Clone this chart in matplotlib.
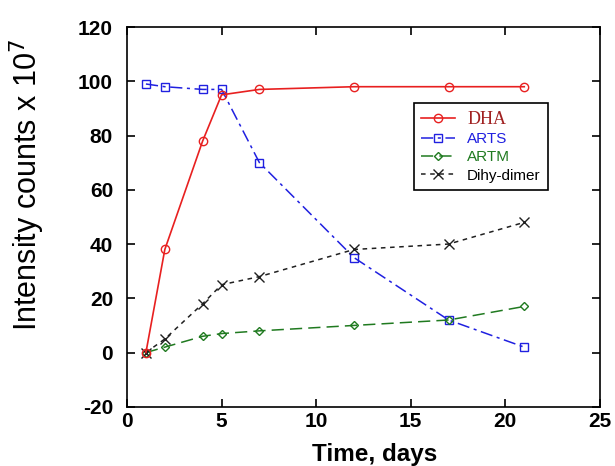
import matplotlib
matplotlib.use("Agg")
import matplotlib.pyplot as plt

plt.rcParams['font.family'] = ['Liberation Sans', 'DejaVu Sans']
plt.rcParams['axes.unicode_minus'] = False

days = [1, 2, 4, 5, 7, 12, 17, 21]
dha = [0, 38, 78, 95, 97, 98, 98, 98]
arts = [99, 98, 97, 97, 70, 35, 12, 2]
artm = [0, 2, 6, 7, 8, 10, 12, 17]
dimer = [0, 5, 18, 25, 28, 38, 40, 48]

fig = plt.figure(figsize=(6.15, 4.66), dpi=100)
ax = fig.add_axes([0.2065, 0.127, 0.769, 0.815])

ax.plot(days, arts, color='#2020e0', ls=(0, (8, 3, 2, 3)), lw=1.1, marker='s',
        ms=6, mfc='none', mec='#2020e0', label='ARTS')
ax.plot(days, artm, color='#207a20', ls=(0, (8, 4)), lw=1.1, marker='D',
        ms=4, mfc='none', mec='#207a20', label='ARTM')
ax.plot(days, dimer, color='#202020', ls=(0, (3, 3)), lw=1.1, marker='x',
        ms=7, mec='#202020', label='Dihy-dimer')
ax.plot(days, dha, color='#e82020', ls='-', lw=1.2, marker='o',
        ms=6, mfc='none', mec='#e82020', label='DHA')

ax.set_xlim(0, 25)
ax.set_ylim(-20, 120)
ax.set_xticks([0, 5, 10, 15, 20, 25])
ax.set_yticks([-20, 0, 20, 40, 60, 80, 100, 120])
ax.tick_params(direction='in', top=True, right=True, length=6, width=1.2,
               labelsize=15)
ax.tick_params(axis='y', pad=10)
ax.tick_params(axis='x', pad=4)
for lab in ax.get_xticklabels() + ax.get_yticklabels():
    lab.set_fontweight('bold')
for sp in ax.spines.values():
    sp.set_linewidth(1.2)

ax.set_xlabel('Time, days', fontsize=17.5, fontweight='bold')
ax.xaxis.set_label_coords(0.524, -0.095)
ax.set_ylabel('Intensity counts x 10$^7$', fontsize=22)
ax.yaxis.set_label_coords(-0.17, 0.584)

handles, labels = ax.get_legend_handles_labels()
order = [3, 0, 1, 2]
leg = ax.legend([handles[i] for i in order], [labels[i] for i in order],
                loc='upper left', bbox_to_anchor=(0.59, 0.82), fancybox=False,
                edgecolor='black', framealpha=1, fontsize=11, handlelength=2.2,
                borderpad=0.5, labelspacing=0.28)
leg.get_frame().set_linewidth(1.2)
text_colors = ['#a02020', '#2020e0', '#207a20', 'black']
for t, c in zip(leg.get_texts(), text_colors):
    t.set_color(c)
leg.get_texts()[0].set_fontfamily('Liberation Serif')
leg.get_texts()[0].set_fontsize(13)

fig.savefig('out.png', dpi=100)
